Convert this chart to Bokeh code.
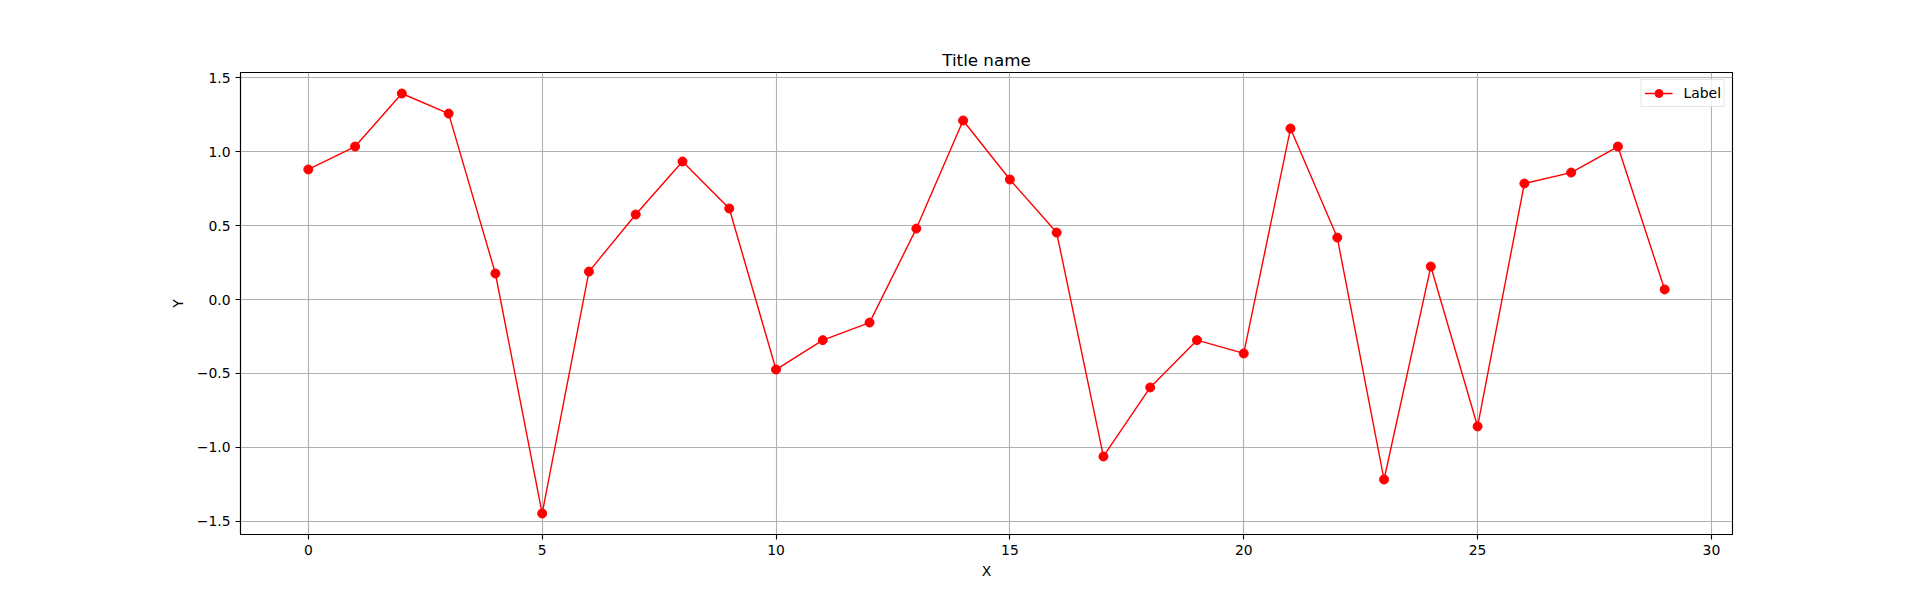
from bokeh.plotting import figure
from bokeh.models import FixedTicker, CustomJSTickFormatter, Legend, LegendItem, Range1d
from bokeh.embed import file_html
from bokeh.resources import INLINE

x_values = list(range(30))
y_values = [0.880, 1.035, 1.394, 1.258, 0.176, -1.448, 0.189, 0.575, 0.934, 0.616,
            -0.474, -0.275, -0.156, 0.480, 1.211, 0.812, 0.453, -1.062, -0.595, -0.275,
            -0.365, 1.157, 0.419, -1.218, 0.223, -0.859, 0.785, 0.859, 1.035, 0.068]
x_ticks = [0, 5, 10, 15, 20, 25, 30]
y_ticks = [-1.5, -1.0, -0.5, 0.0, 0.5, 1.0, 1.5]
title_text = "Title name"
x_label = "X"
y_label = "Y"
series_label = "Label"

FONT = "DejaVu Sans"

xmin, xmax = min(x_values), max(x_values)
ymin, ymax = min(y_values), max(y_values)
xm = (xmax - xmin) * 0.05
ym = (ymax - ymin) * 0.05

p = figure(width=1907, height=584, output_backend="svg", toolbar_location=None,
           x_range=Range1d(xmin - xm, xmax + xm), y_range=Range1d(ymin - ym, ymax + ym),
           min_border_left=240, min_border_right=175, min_border_top=72, min_border_bottom=50)

p.title.text = title_text
p.title.align = "center"
p.title.text_font = FONT
p.title.text_font_size = "16.7px"
p.title.text_font_style = "normal"
p.title.text_color = "black"
p.title.standoff = 6

p.outline_line_color = "black"
p.outline_line_alpha = 1
p.outline_line_width = 1.1

for ax in (p.xaxis[0], p.yaxis[0]):
    ax.major_tick_out = 5
    ax.major_tick_in = 0
    ax.minor_tick_line_color = None
    ax.major_tick_line_color = "black"
    ax.major_tick_line_width = 1.1
    ax.axis_line_color = "black"
    ax.axis_line_width = 1.1
    ax.major_label_text_font = FONT
    ax.major_label_text_font_size = "13.9px"
    ax.major_label_text_color = "black"
    ax.axis_label_text_font = FONT
    ax.axis_label_text_font_size = "13.9px"
    ax.axis_label_text_font_style = "normal"
    ax.axis_label_text_color = "black"
    ax.major_label_standoff = 5

p.xaxis[0].ticker = FixedTicker(ticks=x_ticks)
p.yaxis[0].ticker = FixedTicker(ticks=y_ticks)
p.xaxis[0].axis_label = x_label
p.yaxis[0].axis_label = y_label
p.xaxis[0].axis_label_standoff = 5
p.yaxis[0].axis_label_standoff = 8
p.yaxis[0].formatter = CustomJSTickFormatter(code="return tick.toFixed(1).replace('-', '\u2212');")
p.xaxis[0].formatter = CustomJSTickFormatter(code="return tick.toFixed(0).replace('-', '\u2212');")

p.xgrid[0].ticker = FixedTicker(ticks=x_ticks)
p.ygrid[0].ticker = FixedTicker(ticks=y_ticks)
for g in (p.xgrid[0], p.ygrid[0]):
    g.grid_line_color = "#b0b0b0"
    g.grid_line_width = 1.1
    g.grid_line_alpha = 1

ln = p.line(x_values, y_values, line_color="red", line_width=1.4)
sc = p.scatter(x_values, y_values, size=9, fill_color="red", line_color="red", line_width=1)

legend = Legend(items=[LegendItem(label=series_label, renderers=[ln, sc])],
                location="top_right")
legend.margin = 7
legend.padding = 3
legend.spacing = 0
legend.glyph_width = 28
legend.glyph_height = 20
legend.label_standoff = 11
legend.label_height = 14
legend.label_text_font = FONT
legend.label_text_font_size = "13.9px"
legend.label_text_color = "black"
legend.border_line_color = "#cccccc"
legend.border_line_width = 1.1
legend.background_fill_color = "white"
legend.background_fill_alpha = 0.8
p.add_layout(legend, "center")

open("out.html", "w").write(file_html(p, INLINE))
